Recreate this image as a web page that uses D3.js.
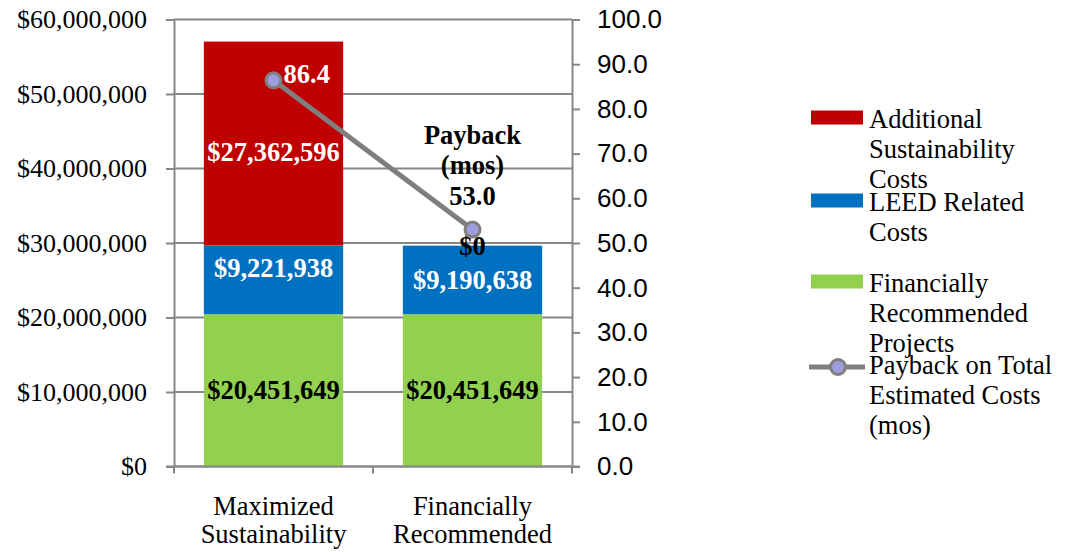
<!DOCTYPE html>
<html>
<head>
<meta charset="utf-8">
<script src="https://cdn.jsdelivr.net/npm/d3@7"></script>
<style>
  body { margin: 0; background: #fff; }
  svg { display: block; }
</style>
</head>
<body>
<svg id="chart"></svg>
<script>
// data
const categories = [["Maximized", "Sustainability"], ["Financially", "Recommended"]];
const financiallyRecommended = [20451649, 20451649];
const leedRelated = [9221938, 9190638];
const additionalSustainability = [27362596, 0];
const paybackMonths = [86.4, 53.0];
const leftTicks = [0, 10000000, 20000000, 30000000, 40000000, 50000000, 60000000];
const rightTicks = [0, 10, 20, 30, 40, 50, 60, 70, 80, 90, 100];
const legendLabels = [
    ["Additional", "Sustainability", "Costs"],
    ["LEED Related", "Costs"],
    ["Financially", "Recommended", "Projects"],
    ["Payback on Total", "Estimated Costs", "(mos)"]
];

// layout
const width = 1072;
const height = 552;
const plot = {left: 174, right: 572, top: 19.5, bottom: 466.5};
const colors = ["#92D050", "#0070C0", "#C00000"];
const gridColor = "#878787";
const SERIF = '"Liberation Serif", "Times New Roman", serif';
const SANS = '"Liberation Sans", Arial, sans-serif';
const FS = '26.5px';

const svg = d3.select('#chart')
    .attr('width', width)
    .attr('height', height);

const catKeys = categories.map(c => c.join(' '));

const x = d3.scaleBand()
    .domain(catKeys)
    .range([plot.left, plot.right])
    .paddingInner(0.3)
    .paddingOuter(0.15);

const yL = d3.scaleLinear()
    .domain([0, 60000000])
    .range([plot.bottom, plot.top]);

const yR = d3.scaleLinear()
    .domain([0, 100])
    .range([plot.bottom, plot.top]);

// gridlines
svg.append('g')
    .selectAll('line')
    .data(leftTicks)
    .enter()
    .append('line')
    .attr('x1', plot.left)
    .attr('x2', plot.right)
    .attr('y1', d => yL(d))
    .attr('y2', d => yL(d))
    .attr('stroke', gridColor)
    .attr('stroke-width', 2);

// stacked bars
const table = catKeys.map(function(k, i) {
    return {cat: k, v0: financiallyRecommended[i], v1: leedRelated[i], v2: additionalSustainability[i]};
});
const stacked = d3.stack().keys(['v0', 'v1', 'v2'])(table);

svg.append('g')
    .selectAll('g')
    .data(stacked)
    .enter()
    .append('g')
    .attr('fill', (d, i) => colors[i])
    .selectAll('rect')
    .data(d => d)
    .enter()
    .append('rect')
    .attr('x', d => x(d.data.cat))
    .attr('y', d => yL(d[1]))
    .attr('width', x.bandwidth())
    .attr('height', d => yL(d[0]) - yL(d[1]));

// axes
function styleAxis(g) {
    g.select('.domain').attr('stroke', gridColor).attr('stroke-width', 2);
    g.selectAll('.tick line').attr('stroke', gridColor).attr('stroke-width', 2);
    g.selectAll('.tick text').attr('fill', '#000');
}

svg.append('g')
    .attr('transform', 'translate(' + plot.left + ',0)')
    .call(d3.axisLeft(yL).tickValues(leftTicks).tickFormat(d3.format('$,')).tickSize(8).tickSizeOuter(0).tickPadding(19))
    .call(styleAxis)
    .call(g => g.selectAll('text').style('font-family', SERIF).style('font-size', '26px'));

svg.append('g')
    .attr('transform', 'translate(' + plot.right + ',0)')
    .call(d3.axisRight(yR).tickValues(rightTicks).tickFormat(d3.format('.1f')).tickSize(8).tickSizeOuter(0).tickPadding(17))
    .call(styleAxis)
    .call(g => g.selectAll('text').style('font-family', SANS).style('font-size', '26px'));

// bottom axis with ticks between categories
const xAxisG = svg.append('g');
xAxisG.append('line')
    .attr('x1', plot.left - 8)
    .attr('x2', plot.right + 8)
    .attr('y1', plot.bottom)
    .attr('y2', plot.bottom)
    .attr('stroke', gridColor)
    .attr('stroke-width', 2);
const bounds = [plot.left].concat(catKeys.map(k => x(k) + x.bandwidth() + x.step() * 0.15));
xAxisG.selectAll('line.tk')
    .data(bounds)
    .enter()
    .append('line')
    .attr('class', 'tk')
    .attr('x1', d => d)
    .attr('x2', d => d)
    .attr('y1', plot.bottom)
    .attr('y2', plot.bottom + 7)
    .attr('stroke', gridColor)
    .attr('stroke-width', 2);
xAxisG.selectAll('text')
    .data(categories)
    .enter()
    .append('text')
    .style('font-family', SERIF)
    .style('font-size', FS)
    .attr('text-anchor', 'middle')
    .attr('x', (d, i) => x(catKeys[i]) + x.bandwidth() / 2)
    .attr('y', plot.bottom + 48.5)
    .selectAll('tspan')
    .data(d => d)
    .enter()
    .append('tspan')
    .attr('x', function() { return d3.select(this.parentNode).attr('x'); })
    .attr('dy', (d, i) => i === 0 ? 0 : 28)
    .text(d => d);

// bar value labels
const labelColors = ['#000', '#fff', '#fff'];
const labelNudge = [[0, 0], [-12, 0], [8, 0]];
stacked.forEach(function(s, si) {
    svg.append('g')
        .selectAll('text')
        .data(s)
        .enter()
        .append('text')
        .style('font-family', SERIF)
        .style('font-size', FS)
        .style('font-weight', 'bold')
        .attr('text-anchor', 'middle')
        .attr('fill', (d, i) => (s[i][1] - s[i][0]) === 0 ? '#000' : labelColors[si])
        .attr('x', d => x(d.data.cat) + x.bandwidth() / 2)
        .attr('y', (d, i) => (yL(d[0]) + yL(d[1])) / 2 + 9 + labelNudge[si][i])
        .text(d => d3.format('$,')(d[1] - d[0]));
});

// payback line
const pts = catKeys.map((k, i) => [x(k) + x.bandwidth() / 2, yR(paybackMonths[i])]);
svg.append('path')
    .datum(pts)
    .attr('d', d3.line())
    .attr('fill', 'none')
    .attr('stroke', '#7f7f7f')
    .attr('stroke-width', 5);
svg.append('g')
    .selectAll('circle')
    .data(pts)
    .enter()
    .append('circle')
    .attr('cx', d => d[0])
    .attr('cy', d => d[1])
    .attr('r', 7.5)
    .attr('fill', '#9D9DDD')
    .attr('stroke', '#7f7f7f')
    .attr('stroke-width', 3);

// payback labels
svg.append('text')
    .style('font-family', SERIF)
    .style('font-size', FS)
    .style('font-weight', 'bold')
    .attr('fill', '#fff')
    .attr('x', pts[0][0] + 10)
    .attr('y', pts[0][1] + 3)
    .text(d3.format('.1f')(paybackMonths[0]));

const pbLabel = svg.append('text')
    .style('font-family', SERIF)
    .style('font-size', FS)
    .style('font-weight', 'bold')
    .attr('fill', '#000')
    .attr('text-anchor', 'middle')
    .attr('x', pts[1][0])
    .attr('y', pts[1][1] - 86);
['Payback', '(mos)', d3.format('.1f')(paybackMonths[1])].forEach(function(t, i) {
    pbLabel.append('tspan')
        .attr('x', pts[1][0])
        .attr('dy', i === 0 ? 0 : 30.5)
        .text(t);
});

// legend
const legend = svg.append('g').attr('transform', 'translate(811,0)');
const legendBase = [127.5, 210.5, 291.5, 374];
const legendColors = [colors[2], colors[1], colors[0]];
legendLabels.forEach(function(lines, i) {
    const g = legend.append('g');
    if (i < 3) {
        g.append('rect')
            .attr('x', 0)
            .attr('y', legendBase[i] - 17)
            .attr('width', 52)
            .attr('height', 14)
            .attr('fill', legendColors[i]);
    } else {
        g.append('line')
            .attr('x1', -2)
            .attr('x2', 54)
            .attr('y1', legendBase[i] - 7)
            .attr('y2', legendBase[i] - 7)
            .attr('stroke', '#7f7f7f')
            .attr('stroke-width', 5);
        g.append('circle')
            .attr('cx', 27)
            .attr('cy', legendBase[i] - 7)
            .attr('r', 7.5)
            .attr('fill', '#9D9DDD')
            .attr('stroke', '#7f7f7f')
            .attr('stroke-width', 3);
    }
    const t = g.append('text')
        .style('font-family', SERIF)
        .style('font-size', FS)
        .attr('x', 58)
        .attr('y', legendBase[i]);
    lines.forEach(function(l, j) {
        t.append('tspan')
            .attr('x', 58)
            .attr('dy', j === 0 ? 0 : 30)
            .text(l);
    });
});
</script>
</body>
</html>
